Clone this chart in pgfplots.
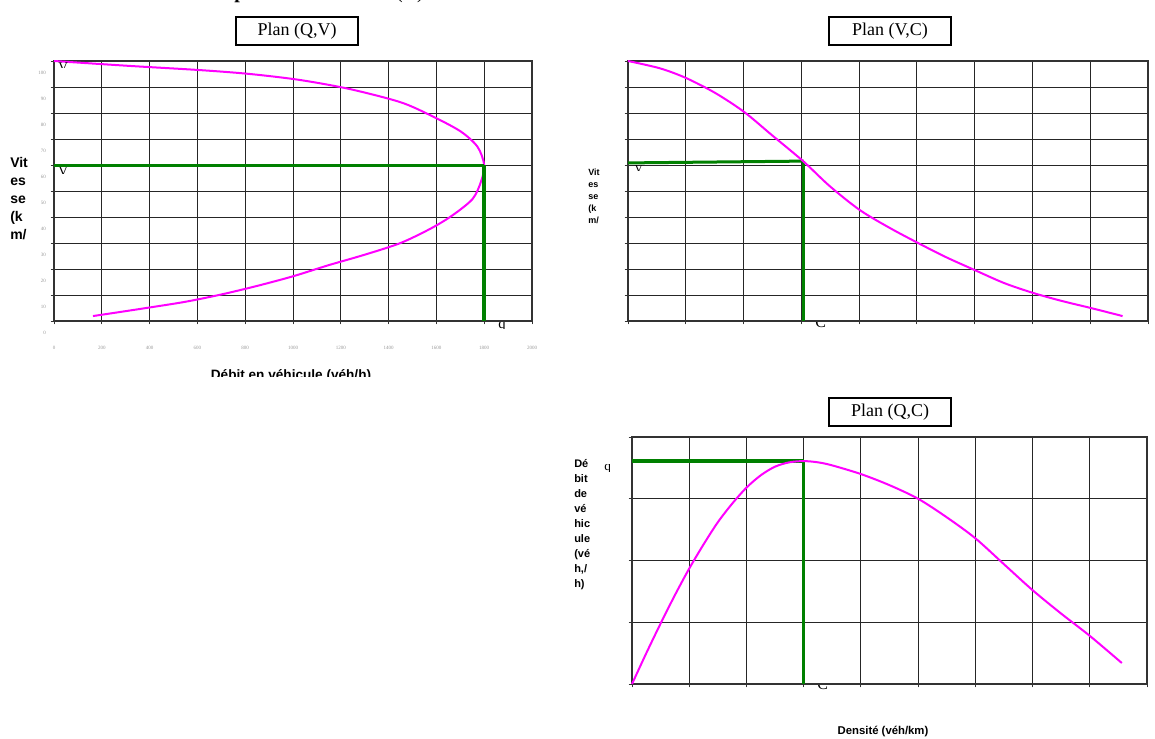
\documentclass[border=0pt]{standalone}
\usepackage{fontspec}
\setmainfont{Liberation Serif}
\setsansfont{Liberation Sans}
\usepackage{pgfplots}
\pgfplotsset{compat=1.18}
\definecolor{mag}{RGB}{255,0,255}
\definecolor{grn}{RGB}{0,128,0}
\pgfplotsset{fd/.style={scale only axis, clip=false, anchor=south west,
  axis line style={black!80, line width=1pt},
  grid=major, major grid style={black!85, line width=0.6pt},
  tick style={black!80, line width=0.6pt}, tick align=outside, major tick length=2.5pt,
  xtick pos=bottom, ytick pos=left,
  /pgf/number format/1000 sep={}, scaled x ticks=false}}
\begin{document}
\begin{tikzpicture}
% ---------- Plan (Q,V)
\begin{axis}[fd, at={(40.5pt,-240.75pt)}, width=358.5pt, height=195pt,
  xmin=0, xmax=2000, ymin=0, ymax=100,
  xtick={0,200,...,2000}, ytick={0,10,...,100},
  tick label style={font=\fontsize{3.75}{4}\selectfont, text=black!40},
  /pgf/number format/assume math mode=true,
  xticklabel style={yshift=-13pt}, yticklabel style={yshift=-9pt}]
\addplot[mag, line width=1.5pt, smooth, tension=0.5] coordinates {
 (0,100) (318,98.1) (611,96.5) (820,95) (1029,92.7) (1238,89.2) (1448,84.2)
 (1573,79.2) (1700,73) (1772,67) (1800,60) (1788,54) (1752,47) (1665,40.5)
 (1575,35.5) (1450,30) (1300,25.5) (1150,21.5) (1000,17.2) (850,13.5)
 (700,10.2) (550,7.4) (400,5.2) (250,3.1) (163,1.9)};
\addplot[grn, line width=2.25pt] coordinates {(0,60) (1800,60)};
\addplot[grn, line width=3pt] coordinates {(1800,60) (1800,0)};
\end{axis}
% ---------- Plan (V,C)
\begin{axis}[fd, at={(471pt,-240.75pt)}, width=390pt, height=195pt,
  xmin=0, xmax=90, ymin=0, ymax=100,
  xtick={0,10,...,90}, ytick={0,10,...,100},
  xticklabels={}, yticklabels={}]
\addplot[grn, line width=2.25pt] coordinates {(0,60.8) (30.4,61.5)};
\addplot[grn, line width=2.6pt] coordinates {(30.4,61.5) (30.4,0)};
\addplot[mag, line width=1.5pt, smooth, tension=0.5] coordinates {
 (0,100) (5.5,97.2) (10,93.5) (15.1,87.7) (20.1,80.4) (24.9,71.5) (30.3,61.5)
 (34.9,51.9) (40.1,42.7) (45.3,35.8) (50.2,30) (55,24.6) (60,19.6) (65.1,14.6)
 (70.1,10.8) (75.1,7.7) (80.1,5) (85.6,1.9)};
\end{axis}
% ---------- Plan (Q,C)
\begin{axis}[fd, at={(474pt,-513pt)}, width=386.25pt, height=185.25pt,
  xmin=0, xmax=90, ymin=0, ymax=2000,
  xtick={0,10,...,90}, ytick={0,500,...,2000},
  xticklabels={}, yticklabels={}]
\addplot[grn, line width=2.6pt] coordinates {(0,1805) (30,1805)};
\addplot[grn, line width=2.25pt] coordinates {(30,1805) (30,0)};
\addplot[mag, line width=1.5pt, smooth, tension=0.5] coordinates {
 (0,0) (2.5,250) (5,490) (7.5,720) (10,935) (12.5,1130) (15,1310) (17.5,1460)
 (20,1590) (22.5,1690) (25,1760) (27.5,1795) (30,1805) (32.5,1795) (35,1770)
 (40,1700) (45,1610) (50,1500) (55,1350) (60,1180) (65,970) (70,760)
 (75,570) (80,390) (85.6,170)};
\end{axis}
% ---------- texts (pixel coordinates, y downwards)
\begin{scope}[x=0.75pt, y=-0.75pt]
 \node[anchor=base, inner sep=0, font=\bfseries\fontsize{15}{17}\selectfont] at (240,-1.5) {p};
 \node[anchor=base, inner sep=0, font=\fontsize{15}{17}\selectfont] at (410,-1.5) {(V)};
 \foreach \cx/\cy/\t in {297/31/{Plan (Q,V)}, 890/31/{Plan (V,C)}, 890/412/{Plan (Q,C)}}
   \node[draw, line width=1.2pt, fill=white, minimum width=91.5pt, minimum height=21pt,
         inner sep=0, font=\fontsize{13.5}{16}\selectfont] at (\cx,\cy) {\t};
 \node[anchor=north west, align=left, inner sep=0,
       font=\sffamily\bfseries\fontsize{10.5}{13.5}\selectfont] at (10,157) {Vit\\es\\se\\(k\\m/};
 \node[anchor=north west, align=left, inner sep=0,
       font=\sffamily\bfseries\fontsize{6.75}{9}\selectfont] at (588,169) {Vit\\es\\se\\(k\\m/};
 \node[anchor=north west, align=left, inner sep=0,
       font=\sffamily\bfseries\fontsize{8.25}{11.25}\selectfont] at (574,459) {Dé\\bit\\de\\vé\\hic\\ule\\(vé\\h,/\\h)};
 \begin{scope}
  \clip (150,360) rectangle (450,376);
  \node[anchor=base, inner sep=0, font=\sffamily\bfseries\fontsize{10.2}{12}\selectfont] at (291,379) {Débit en véhicule (véh/h)};
 \end{scope}
 \node[anchor=base, inner sep=0, font=\sffamily\bfseries\fontsize{8.5}{10}\selectfont] at (883,734.5) {Densité (véh/km)};
 % partially hidden curve letters
 \begin{scope}\clip (56,62) rectangle (74,68);
  \node[anchor=north west, inner sep=0, font=\fontsize{10}{12}\selectfont] at (58,63) {V};\end{scope}
 \begin{scope}\clip (56,167) rectangle (74,173);
  \node[anchor=north west, inner sep=0, font=\fontsize{10}{12}\selectfont] at (58,167) {V};\end{scope}
 \begin{scope}\clip (494,322) rectangle (512,328);
  \node[anchor=north west, inner sep=0, font=\fontsize{11}{12}\selectfont] at (498,321) {q};\end{scope}
 \begin{scope}\clip (630,165) rectangle (650,170);
  \node[anchor=north west, inner sep=0, font=\fontsize{9}{11}\selectfont] at (634,164) {V};\end{scope}
 \begin{scope}\clip (810,322.5) rectangle (834,330);
  \node[anchor=north west, inner sep=0, font=\fontsize{12}{14}\selectfont] at (815,317) {C};\end{scope}
 \begin{scope}\clip (600,464) rectangle (620,471);
  \node[anchor=north west, inner sep=0, font=\fontsize{10}{12}\selectfont] at (604,464) {q};\end{scope}
 \begin{scope}\clip (812,685.5) rectangle (836,692);
  \node[anchor=north west, inner sep=0, font=\fontsize{12}{14}\selectfont] at (817,679) {C};\end{scope}
 \pgfresetboundingbox
 \useasboundingbox (0,0) rectangle (1155,738);
\end{scope}
\end{tikzpicture}
\end{document}
